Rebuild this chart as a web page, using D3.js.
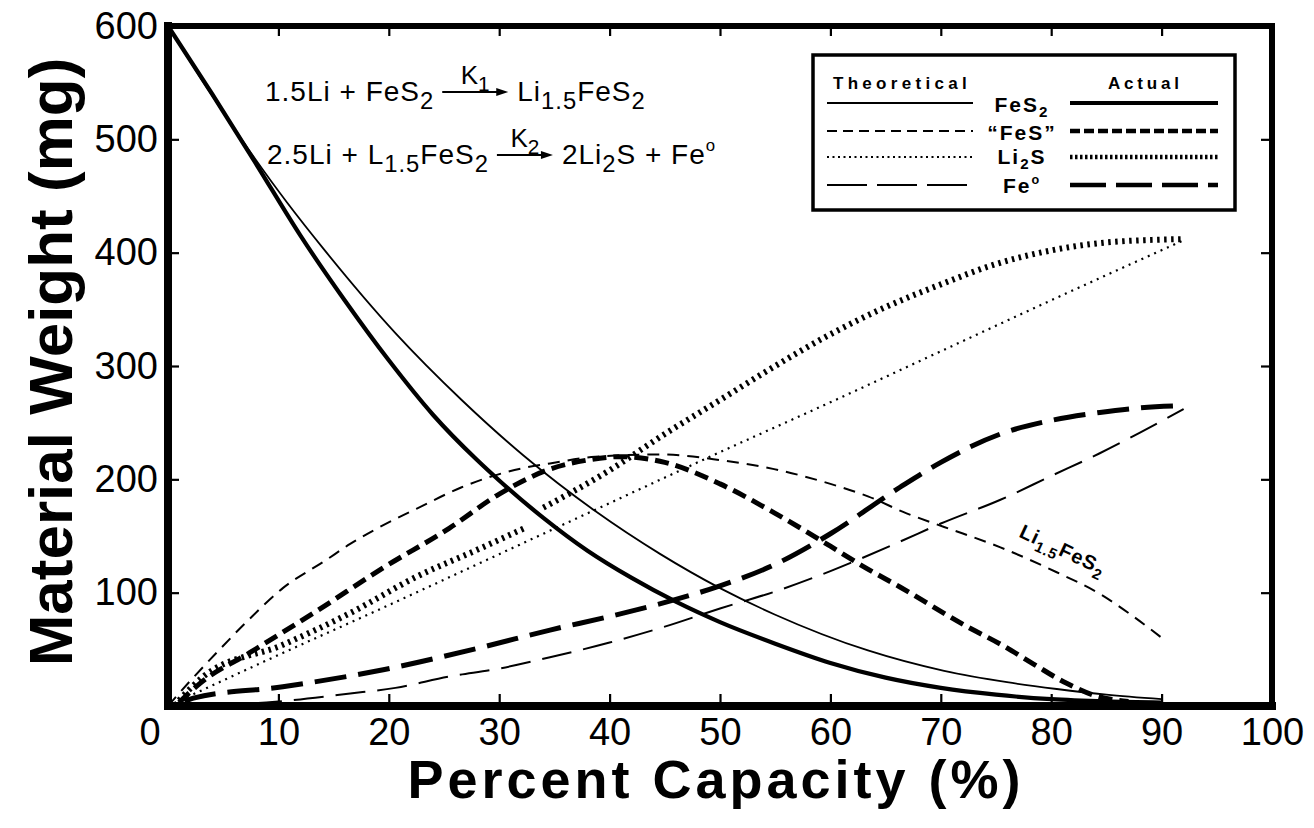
<!DOCTYPE html>
<html>
<head>
<meta charset="utf-8">
<script src="https://cdn.jsdelivr.net/npm/d3@7/dist/d3.min.js"></script>
<style>
  html, body { margin: 0; padding: 0; background: #fff; }
  svg { display: block; }
  text { font-family: "Liberation Sans", Arial, Helvetica, sans-serif; fill: #000; }
</style>
</head>
<body>
<svg id="chart" width="1314" height="828"></svg>
<script>
// ---------- DATA (percent capacity, material weight mg) ----------
const xTickValues = [10, 20, 30, 40, 50, 60, 70, 80, 90, 100];
const yTickValues = [100, 200, 300, 400, 500, 600];

const fes2Theoretical = [[0,600],[3.7,543],[7.3,491],[10.8,444],[14.2,402],[20.6,329],[26.6,270],[32.2,221],[38.7,172],[44.6,134],[50,104],[54.9,81],[63.4,49],[70.3,31],[76,21],[80.5,15],[85,10],[90,6]];
const fes2Actual = [[0,600],[4,540],[8,478],[12,415],[16,358],[20,305],[24,257],[28,217],[30,199],[34,166],[38,137],[42,113],[46,92],[50,74],[55,55],[60,38],[65,25],[70,16],[75,10],[80,6],[85,4],[90,3]];

const fesTheoretical = [[0,0],[2,22],[4.4,47],[7.3,76],[10.4,104],[14.2,128],[16.5,143],[20.6,165],[22.5,174],[26.6,193],[28.5,200],[32.2,210],[34.6,214],[38.7,220],[44.6,222],[50,217],[54.9,209],[60,196],[63.4,185],[66.9,170],[70.3,158],[75.4,140],[80.5,118],[84.4,99],[87.3,80],[89.9,61]];
const fesActual = [[1,3],[2.9,20],[7.4,47],[13.5,84],[19.5,122],[25.5,157],[30,187],[34.6,209],[38,217],[41,220],[45,215],[50,196],[55,170],[60,141],[63,123],[66.3,105],[72.4,70],[75.5,54],[78.4,37],[81.4,20],[84,9],[87,4]];

const li2sTheoretical = [[0,0],[10,45],[20,89],[30,134],[40,179],[50,224],[60,268],[70,313],[80,358],[92,411]];
const li2sActualA = [[1,5],[3.2,26],[10.4,54],[16.5,82],[22.5,114],[28.5,140],[32.3,157]];
const li2sActualB = [[34,175],[40,208],[45,240],[50,270],[55,300],[60,328],[65,352],[70,372],[75,390],[80,402],[85,409],[92,412]];

const feTheoretical = [[0,0],[5,1],[10,4],[16.5,11],[20.6,16],[25.5,26],[30,33],[34.6,43],[40,56],[45,70],[50,86],[55,101],[60,119],[66.3,145],[70,161],[75.4,182],[80,203],[84.4,223],[88,241],[92,262]];
const feActual = [[1.5,4],[2.3,7],[10.4,17],[19.5,32],[28.5,52],[34.6,67],[40,79],[46,94],[50,106],[55,125],[60,152],[66.3,193],[70,215],[75.4,240],[80,252],[84.4,259],[88,263],[92.1,265]];

// ---------- STYLES ----------
const styles = {
  solidT:  { w: 1.8, dash: null },
  solidA:  { w: 4.2, dash: null },
  dashT:   { w: 2,   dash: "12 8" },
  dashA:   { w: 5,   dash: "14 7" },
  dotT:    { w: 2.2, dash: "2 5" },
  dotA:    { w: 6,   dash: "2.5 4.5" },
  longT:   { w: 2,   dash: "30 12" },
  longA:   { w: 5,   dash: "32 12" }
};

const series = [
  { data: fes2Theoretical, st: "solidT" },
  { data: fes2Actual,      st: "solidA" },
  { data: fesTheoretical,  st: "dashT" },
  { data: fesActual,       st: "dashA" },
  { data: li2sTheoretical, st: "dotT" },
  { data: li2sActualA,     st: "dotA" },
  { data: li2sActualB,     st: "dotA" },
  { data: feTheoretical,   st: "longT" },
  { data: feActual,        st: "longA" }
];

// ---------- LAYOUT ----------
const svg = d3.select("#chart");
const X0 = 168, X1 = 1272, Y0 = 706, Y1 = 26;
const x = d3.scaleLinear().domain([0, 100]).range([X0, X1]);
const y = d3.scaleLinear().domain([0, 600]).range([Y0, Y1]);

const line = d3.line().x(d => x(d[0])).y(d => y(d[1])).curve(d3.curveMonotoneX);

const gCurves = svg.append("g");
series.forEach(s => {
  const st = styles[s.st];
  gCurves.append("path")
    .attr("d", line(s.data))
    .attr("fill", "none")
    .attr("stroke", "#000")
    .attr("stroke-width", st.w)
    .attr("stroke-dasharray", st.dash);
});

function styleAxis(g, fs) {
  g.select(".domain").remove();
  g.selectAll(".tick line").attr("stroke", "#000").attr("stroke-width", 2.2);
  if (fs) {
    g.selectAll(".tick text").attr("font-size", fs).attr("fill", "#000")
      .style("font-family", "'Liberation Sans', Arial, sans-serif");
  } else {
    g.selectAll(".tick text").remove();
  }
}
const gx = svg.append("g").attr("transform", `translate(0,${Y0})`)
  .call(d3.axisBottom(x).tickValues(xTickValues).tickSize(-12).tickPadding(12).tickFormat(d3.format("d")));
styleAxis(gx, 38);
gx.selectAll(".tick text").attr("dy", "0.71em");

const gxt = svg.append("g").attr("transform", `translate(0,${Y1})`)
  .call(d3.axisTop(x).tickValues(xTickValues.filter(v => v < 100)).tickSize(-10));
styleAxis(gxt, 0);

const gy = svg.append("g").attr("transform", `translate(${X0},0)`)
  .call(d3.axisLeft(y).tickValues(yTickValues).tickSize(-11).tickPadding(10).tickFormat(d3.format("d")));
styleAxis(gy, 38);

const gyr = svg.append("g").attr("transform", `translate(${X1},0)`)
  .call(d3.axisRight(y).tickValues(yTickValues.filter(v => v < 600)).tickSize(-11));
styleAxis(gyr, 0);

svg.append("text").attr("x", 150).attr("y", 745).attr("text-anchor", "middle")
  .attr("font-size", 38).text("0");

// frame
const frame = svg.append("g").attr("stroke", "#000").attr("stroke-linecap", "square");
frame.append("line").attr("x1", X0).attr("x2", X0).attr("y1", Y1).attr("y2", Y0).attr("stroke-width", 8);
frame.append("line").attr("x1", X0).attr("x2", X1).attr("y1", Y0).attr("y2", Y0).attr("stroke-width", 8);
frame.append("line").attr("x1", X0).attr("x2", X1).attr("y1", Y1).attr("y2", Y1).attr("stroke-width", 6);
frame.append("line").attr("x1", X1).attr("x2", X1).attr("y1", Y1).attr("y2", Y0).attr("stroke-width", 6);

// axis titles
svg.append("text")
  .attr("transform", "translate(72,362) rotate(-90)")
  .attr("text-anchor", "middle").attr("font-size", 62).attr("font-weight", "bold")
  .text("Material Weight (mg)");
svg.append("text")
  .attr("x", 716).attr("y", 798).attr("text-anchor", "middle")
  .attr("font-size", 54).attr("font-weight", "bold").attr("letter-spacing", 4)
  .text("Percent Capacity (%)");

// rich text: segments are strings or {t, k:"sub"|"sup"}
function rich(parent, xPos, yPos, segs, size, opts) {
  opts = opts || {};
  const subScale = opts.subScale || 0.75;
  const subShift = opts.subShift || 0.3;
  const t = parent.append("text").attr("x", xPos).attr("y", yPos)
    .attr("font-size", size).attr("font-weight", opts.weight || "normal")
    .attr("text-anchor", opts.anchor || "start")
    .attr("letter-spacing", opts.ls || 0);
  let cur = 0;
  segs.forEach(s => {
    const str = typeof s === "string" ? s : s.t;
    const kind = typeof s === "string" ? null : s.k;
    let target = 0, fs = size;
    if (kind === "sub") { target = size * subShift; fs = size * subScale; }
    if (kind === "sup") { target = -size * 0.45; fs = size * 0.6; }
    t.append("tspan").attr("font-size", fs).attr("dy", target - cur).text(str);
    cur = target;
  });
  return t;
}

const eq = svg.append("g");
const eqOpts = { subScale: 0.85, subShift: 0.3, ls: 1 };
function equation(x0, yb, left, k, right, arrowLen) {
  const tl = rich(eq, x0, yb, left, 28, eqOpts);
  const w = tl.node().getBBox().width;
  const ax0 = x0 + w + 8, ax1 = ax0 + arrowLen, ay = yb - 9;
  eq.append("line").attr("x1", ax0).attr("x2", ax1 - 8).attr("y1", ay).attr("y2", ay)
    .attr("stroke", "#000").attr("stroke-width", 1.8);
  eq.append("path").attr("d", `M${ax1},${ay} L${ax1 - 12},${ay - 4} L${ax1 - 12},${ay + 4} Z`).attr("fill", "#000");
  rich(eq, (ax0 + ax1) / 2, ay - 8, k, 26, { anchor: "middle", subScale: 0.8, subShift: 0.25 });
  rich(eq, ax1 + 9, yb, right, 28, eqOpts);
}
equation(265, 101, ["1.5Li + FeS", {t: "2", k: "sub"}], ["K", {t: "1", k: "sub"}],
         ["Li", {t: "1.5", k: "sub"}, "FeS", {t: "2", k: "sub"}], 66);
equation(267, 164, ["2.5Li + L", {t: "1.5", k: "sub"}, "FeS", {t: "2", k: "sub"}], ["K", {t: "2", k: "sub"}],
         ["2Li", {t: "2", k: "sub"}, "S + Fe", {t: "o", k: "sup"}], 56);

// legend
const lg = svg.append("g");
lg.append("rect").attr("x", 813).attr("y", 55).attr("width", 422).attr("height", 155)
  .attr("fill", "#fff").attr("stroke", "#000").attr("stroke-width", 3.5);
lg.append("text").attr("x", 833).attr("y", 89).attr("font-size", 17).attr("font-weight", "bold")
  .attr("letter-spacing", 4.3).text("Theoretical");
lg.append("text").attr("x", 1108).attr("y", 89).attr("font-size", 17).attr("font-weight", "bold")
  .attr("letter-spacing", 3.8).text("Actual");
const legendRows = [
  { y: 103, tb: 112, lab: ["FeS", {t: "2", k: "sub"}], t: "solidT", a: "solidA" },
  { y: 131, tb: 140, lab: ["\u201CFeS\u201D"], t: "dashT", a: "dashA" },
  { y: 157, tb: 164, lab: ["Li", {t: "2", k: "sub"}, "S"], t: "dotT", a: "dotA" },
  { y: 185, tb: 193, lab: ["Fe", {t: "o", k: "sup"}], t: "longT", a: "longA" }
];
const legendDash = { dashT: "10 6", dashA: "10 4", dotT: "2 3.5", dotA: "2.5 2.5", longT: "40 10", longA: "36 10" };
legendRows.forEach(r => {
  [[827, 973, r.t], [1070, 1218, r.a]].forEach(([a, b, k]) => {
    const st = styles[k];
    lg.append("line").attr("x1", a).attr("x2", b).attr("y1", r.y).attr("y2", r.y)
      .attr("stroke", "#000").attr("stroke-width", Math.min(st.w, 4.5))
      .attr("stroke-dasharray", legendDash[k] || null);
  });
  rich(lg, 1022, r.tb, r.lab, 21, { weight: "bold", anchor: "middle", ls: 2, subScale: 0.72, subShift: 0.22 });
});

rich(svg.append("g"), 0, 0, ["Li", {t: "1.5", k: "sub"}, "FeS", {t: "2", k: "sub"}], 20,
     { weight: "bold", anchor: "middle", ls: 1 })
  .attr("transform", "translate(1060,556) rotate(25)");
</script>
</body>
</html>
